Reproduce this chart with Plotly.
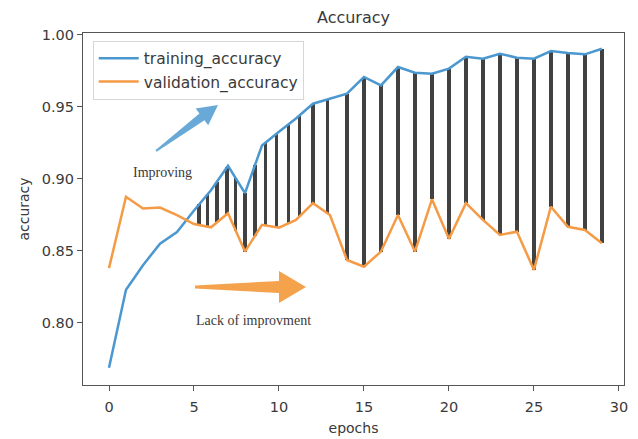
import numpy as np
import plotly.graph_objects as go

# ---------------- data ----------------
epochs = list(range(30))
training_accuracy = [0.769, 0.823, 0.840, 0.855, 0.863, 0.878, 0.892, 0.909, 0.890, 0.923,
                     0.9325, 0.9417, 0.952, 0.9555, 0.959, 0.9705, 0.9647, 0.9774, 0.9735, 0.9728,
                     0.9763, 0.9845, 0.9832, 0.9866, 0.9839, 0.9832, 0.9885, 0.9871, 0.9862, 0.9901]
validation_accuracy = [0.838, 0.8875, 0.8794, 0.880, 0.8748, 0.8686, 0.8663, 0.876, 0.8495, 0.868,
                       0.866, 0.8714, 0.883, 0.8748, 0.8437, 0.839, 0.8495, 0.8748, 0.8495, 0.8857,
                       0.8583, 0.883, 0.8714, 0.861, 0.8633, 0.8368, 0.8806, 0.8667, 0.8645, 0.8553]
# positions (in epochs) of the dark "gap" bars drawn between the two curves
gap_bar_x = [5.3, 5.8, 6.35, 6.95, 7.45, 8.0, 8.6, 9.2, 9.85, 10.55, 11.2, 12.0, 12.85,
             14, 15, 16, 17, 18, 19, 20, 21, 22, 23, 24, 25, 26, 27, 28, 29]
x_ticks = [0, 5, 10, 15, 20, 25, 30]
y_ticks = [0.80, 0.85, 0.90, 0.95, 1.00]

# ---------------- layout geometry ----------------
W, H = 638, 439
ML, MR, MT, MB = 83, 14, 33, 54
XR = [-1.53, 30.3]
YR = [0.757, 1.001]
PW, PH = W - ML - MR, H - MT - MB


def px2x(px):
    return XR[0] + (px - ML) / PW * (XR[1] - XR[0])


def py2y(py):
    return YR[1] - (py - MT) / PH * (YR[1] - YR[0])


def arrow_path(tail, tip, head_len, head_half, shaft_tail, shaft_head):
    t = np.array(tail, float)
    p = np.array(tip, float)
    d = p - t
    L = np.hypot(*d)
    u = d / L
    n = np.array([-u[1], u[0]])
    base = p - u * head_len
    pts = [t + n * shaft_tail, base + n * shaft_head, base + n * head_half, p,
           base - n * head_half, base - n * shaft_head, t - n * shaft_tail]
    s = "M " + " L ".join(f"{px2x(q[0]):.4f},{py2y(q[1]):.5f}" for q in pts) + " Z"
    return s


tr = np.array(training_accuracy)
va = np.array(validation_accuracy)
bx = np.array(gap_bar_x, float)
b_top = np.interp(bx, epochs, tr)
b_bot = np.interp(bx, epochs, va)
b_w = [0.21 if v < 13.5 else 0.28 for v in gap_bar_x]

BLUE = "#4b97cf"
ORANGE = "#f59a45"
TXT = "#3a3a3a"

fig = go.Figure()
fig.add_trace(go.Bar(x=bx, y=b_top - b_bot, base=b_bot, width=b_w,
                     marker=dict(color="#414141", line=dict(width=0)),
                     showlegend=False, hoverinfo="skip"))
fig.add_trace(go.Scatter(x=epochs, y=training_accuracy, mode="lines", name="training_accuracy",
                         line=dict(color=BLUE, width=2.5)))
fig.add_trace(go.Scatter(x=epochs, y=validation_accuracy, mode="lines", name="validation_accuracy",
                         line=dict(color=ORANGE, width=2.5)))

shapes = [
    dict(type="path", xref="x", yref="y", layer="above",
         path=arrow_path((156, 151), (218, 105), 20, 10.5, 1.0, 4.2),
         fillcolor="#68a9d8", line=dict(width=0)),
    dict(type="path", xref="x", yref="y", layer="above",
         path=arrow_path((195, 287), (306, 287), 27, 16, 1.5, 6.0),
         fillcolor="#f5a24d", line=dict(width=0)),
]

fig.update_layout(
    width=W, height=H,
    margin=dict(l=ML, r=MR, t=MT, b=MB, autoexpand=False),
    paper_bgcolor="white", plot_bgcolor="white",
    font=dict(family="DejaVu Sans", size=14, color=TXT),
    title=dict(text="Accuracy", x=0.5, xref="paper", xanchor="center",
               y=1 - 17 / H, yref="container", yanchor="middle", automargin=False,
               font=dict(size=16, color=TXT)),
    shapes=shapes,
    showlegend=True,
    legend=dict(x=0.018, y=0.978, xanchor="left", yanchor="top",
                bgcolor="rgba(255,255,255,0.9)", bordercolor="#d6d6d6", borderwidth=1,
                font=dict(size=15.5, color=TXT), itemwidth=40, tracegroupgap=0),
    annotations=[
        dict(text="Improving", x=px2x(162), y=py2y(172), xref="x", yref="y", showarrow=False,
             font=dict(family="Liberation Serif", size=14, color=TXT)),
        dict(text="Lack of improvment", x=px2x(253), y=py2y(320), xref="x", yref="y", showarrow=False,
             font=dict(family="Liberation Serif", size=14, color=TXT)),
    ],
    bargap=0,
)
fig.update_xaxes(range=XR, tickvals=x_ticks, ticktext=[str(v) for v in x_ticks], automargin=False,
                 showgrid=False, zeroline=False, showline=True, linecolor="#555", linewidth=1.2,
                 mirror=True, ticks="outside", ticklen=5, tickcolor="#555",
                 ticklabelstandoff=3,
                 tickfont=dict(size=14.5, color=TXT),
                 title=dict(text="epochs", font=dict(size=14, color=TXT), standoff=9))
fig.update_yaxes(range=YR, tickvals=y_ticks, ticktext=[f"{v:.2f}" for v in y_ticks], automargin=False,
                 showgrid=False, zeroline=False, showline=True, linecolor="#555", linewidth=1.2,
                 mirror=True, ticks="outside", ticklen=5, tickcolor="#555",
                 tickfont=dict(size=14.5, color=TXT),
                 title=dict(text="accuracy", font=dict(size=14, color=TXT), standoff=8))

fig.write_html("out.html", config={"displayModeBar": False},
               post_script="document.body.style.margin='0';")
